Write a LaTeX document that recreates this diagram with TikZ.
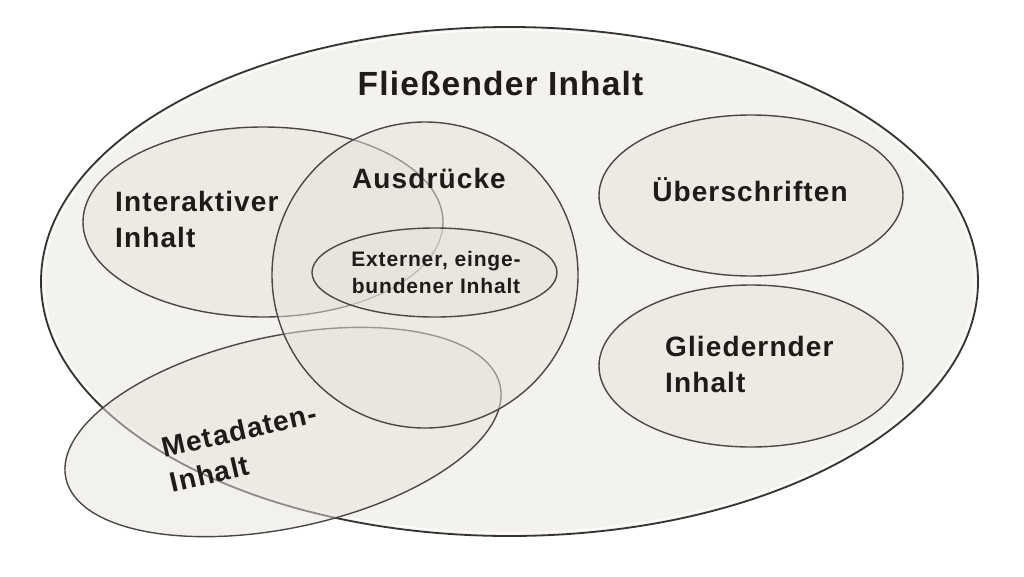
\documentclass[tikz,border=0pt]{standalone}
\usepackage{fontspec}
\setmainfont{Liberation Sans}
\newfontfamily\lblfont[LetterSpace=4]{Liberation Sans}
\newfontfamily\ttlfont[LetterSpace=3.5]{Liberation Sans}
\usetikzlibrary{shapes.geometric}
\definecolor{bgfill}{HTML}{F4F2EE}
\definecolor{infill}{HTML}{E8E3DC}
\definecolor{edgecol}{HTML}{353230}
\definecolor{inedge}{HTML}{4A4745}
\definecolor{txtcol}{HTML}{1E1B19}
\begin{document}
\begin{tikzpicture}[x=1pt,y=-1pt,
  outerset/.style={ellipse, draw=edgecol, line width=1.8pt, fill=bgfill, inner sep=0pt},
  glow/.style={ellipse, draw=white, line width=1.4pt, draw opacity=0.85, inner sep=0pt},
  setshape/.style={ellipse, draw=inedge, line width=1.4pt, fill=infill, fill opacity=0.5, inner sep=0pt},
  lbl/.style={text=txtcol, font=\lblfont\bfseries\fontsize{28}{35.5}\selectfont, inner sep=0pt, align=left},
  titlelbl/.style={text=txtcol, font=\ttlfont\bfseries\fontsize{33.5}{40}\selectfont, inner sep=0pt},
  smalllbl/.style={text=txtcol, font=\lblfont\bfseries\fontsize{21}{27}\selectfont, inner sep=0pt, align=center}]
\useasboundingbox (0,0) rectangle (1024,576);
% outer set
\node[outerset, minimum width=937pt, minimum height=509pt] (fl) at (509.5,281.5) {};
\node[glow, minimum width=931pt, minimum height=503pt] (flglow) at (fl.center) {};
% inner sets
\node[setshape, minimum width=360pt, minimum height=190pt] (ia) at (263,222) {};
\node[setshape, rotate=12, minimum width=444pt, minimum height=192pt] (md) at (283,432) {};
\node[setshape, circle, minimum size=306pt] (au) at (425,275) {};
\node[setshape, minimum width=245pt, minimum height=89pt] (ex) at (434.5,272.5) {};
\node[setshape, minimum width=304pt, minimum height=161pt] (ub) at (751,195.5) {};
\node[setshape, minimum width=304pt, minimum height=162pt] (gl) at (751,366) {};
% labels
\node[titlelbl, anchor=base] (tfl) at (500.5,95) {Fließender Inhalt};
\node[lbl, anchor=north west] (tia) at (115,191.5) {Interaktiver\\Inhalt};
\node[lbl, anchor=base] (tau) at (429,188) {Ausdrücke};
\node[smalllbl, anchor=north] (tex) at (436,250.7) {Externer, einge-\\bundener Inhalt};
\node[lbl, anchor=base] (tub) at (750,201) {Überschriften};
\node[lbl, anchor=north west] (tgl) at (665,336.5) {Gliedernder\\Inhalt};
\node[lbl, anchor=north west, rotate=13] (tmd) at (160,438) {Metadaten-\\Inhalt};
\end{tikzpicture}
\end{document}
